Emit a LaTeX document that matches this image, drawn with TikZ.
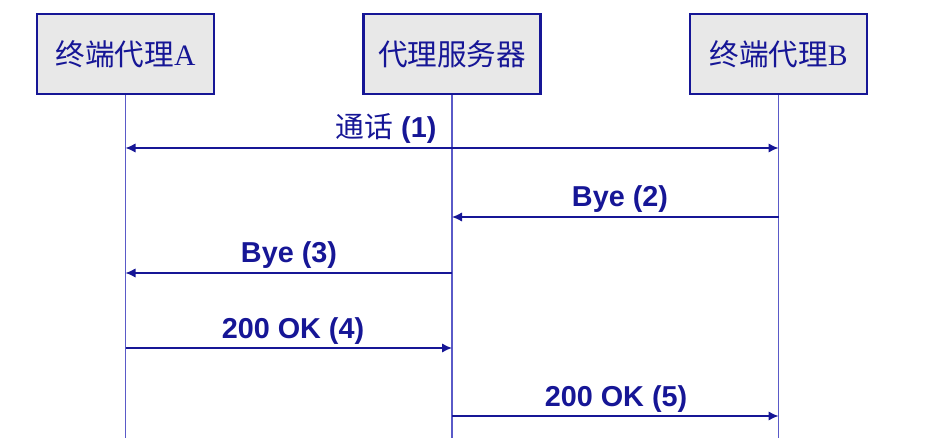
\documentclass[tikz,border=0pt]{standalone}
\usepackage{fontspec}
\setmainfont{Liberation Serif}
\newfontfamily\cjk{Noto Sans CJK SC}
\newfontfamily\labfont{Liberation Sans}
\usetikzlibrary{arrows.meta}
\definecolor{navy}{RGB}{22,22,150}
\definecolor{life}{RGB}{90,90,200}
\definecolor{boxfill}{RGB}{232,232,232}
\tikzset{
  tip/.tip={Latex[length=7.5pt,width=7pt]},
  actor/.style={draw=navy, fill=boxfill, line width=1.9pt, minimum width=132.75pt, minimum height=60pt, inner sep=0pt, text=navy, font=\fontsize{22.2}{22.2}\selectfont},
  lifeline/.style={draw=life, line width=0.8pt},
  msg/.style={draw=navy, line width=1.1pt, -tip},
  msglabel/.style={anchor=base, text=navy, inner sep=0pt, font=\labfont\bfseries\fontsize{21.6}{21.6}\selectfont}
}
\begin{document}
\begin{tikzpicture}[x=0.75pt,y=-0.75pt]
\useasboundingbox (0,0) rectangle (935,438);
\node[actor] (A) at (125.5,54) {{\cjk 终端代理}A};
\node[actor] (P) at (452,54) {{\cjk 代理服务器}};
\node[actor] (B) at (778.5,54) {{\cjk 终端代理}B};
\coordinate (bot) at (0,438);
\draw[lifeline] (A.south) -- (A.south |- bot);
\draw[lifeline] (P.south) -- (P.south |- bot);
\draw[lifeline] (B.south) -- (B.south |- bot);
\coordinate (m1) at (0,148);
\coordinate (m2) at (0,217);
\coordinate (m3) at (0,273);
\coordinate (m4) at (0,348);
\coordinate (m5) at (0,416);
\draw[msg,tip-tip] (A |- m1) -- (B |- m1);
\draw[msg] (B |- m2) -- (P |- m2);
\draw[msg] (P |- m3) -- (A |- m3);
\draw[msg] (A |- m4) -- (P |- m4);
\draw[msg] (P |- m5) -- (B |- m5);
\node[msglabel] (l1) at (386,138) {{\cjk\mdseries 通话} (1)};
\node[msglabel] (l2) at (620,207) {Bye (2)};
\node[msglabel] (l3) at (289,263) {Bye (3)};
\node[msglabel] (l4) at (293,339) {200 OK (4)};
\node[msglabel] (l5) at (616,406) {200 OK (5)};
\end{tikzpicture}
\end{document}
